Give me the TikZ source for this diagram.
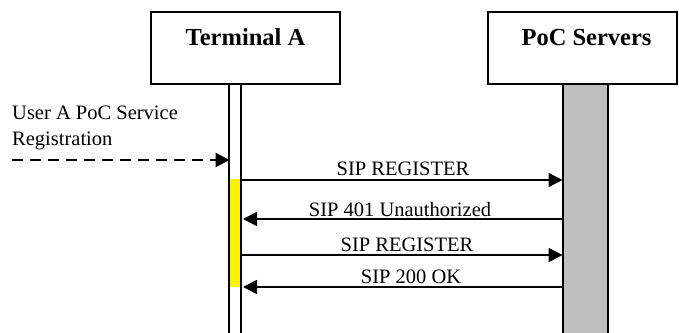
\documentclass[tikz,border=0pt]{standalone}
\usepackage{fontspec}
\setmainfont{Liberation Serif}
\usetikzlibrary{arrows.meta}
\begin{document}
\begin{tikzpicture}[x=1pt,y=1pt,
  entity/.style={draw,line width=1.5pt,minimum width=189pt,minimum height=72pt,inner sep=0pt},
  title/.style={font=\fontsize{24.5}{28}\selectfont\bfseries,anchor=base},
  lbl/.style={font=\fontsize{20.5}{24}\selectfont,anchor=base,inner sep=0pt},
  msg/.style={line width=1.5pt,-{Triangle[length=14pt,width=14pt]}},
  life/.style={line width=1.5pt}]
\useasboundingbox (0,0) rectangle (679,-332);
% entity boxes
\node[entity] (ta) at (245.5,-48) {};
\node[entity] (ps) at (582.5,-48) {};
\node[title] (tat) at (245.5,-45) {Terminal A};
\node[title] (pst) at (586.5,-45) {PoC Servers};
% Terminal A lifeline
\fill[yellow] (230,-179) rectangle (241,-287);
\coordinate (la1) at (229,-84);
\coordinate (la1e) at (229,-333);
\coordinate (la2) at (241,-84);
\coordinate (la2e) at (241,-333);
\draw[life] (la1) -- (la1e);
\draw[life] (la2) -- (la2e);
% PoC Servers lifeline
\draw[life,fill=black!25] (563,-84) rectangle (608,-334);
% external trigger
\node[font=\fontsize{20.5}{26}\selectfont,anchor=base west,inner sep=0pt,align=left] (ext) at (12,-119) {User A PoC Service};
\node[font=\fontsize{20.5}{26}\selectfont,anchor=base west,inner sep=0pt] (ext2) at (12,-145) {Registration};
\coordinate (d0) at (12,-160);
\coordinate (d1) at (229.5,-160);
\draw[msg,line width=2.2pt,dash pattern=on 11pt off 7pt] (d0) -- (d1);
% messages
\coordinate (a1) at (242,-180); \coordinate (b1) at (562.5,-180);
\coordinate (a2) at (243,-219); \coordinate (b2) at (563,-219);
\coordinate (a3) at (242,-255); \coordinate (b3) at (562.5,-255);
\coordinate (a4) at (243,-287); \coordinate (b4) at (563,-287);
\draw[msg] (a1) -- (b1);
\draw[msg] (b2) -- (a2);
\draw[msg] (a3) -- (b3);
\draw[msg] (b4) -- (a4);
\node[lbl] (l1) at (403,-175) {SIP REGISTER};
\node[lbl] (l2) at (400,-216.5) {SIP 401 Unauthorized};
\node[lbl] (l3) at (407,-251) {SIP REGISTER};
\node[lbl] (l4) at (411,-283) {SIP 200 OK};
\end{tikzpicture}
\end{document}
